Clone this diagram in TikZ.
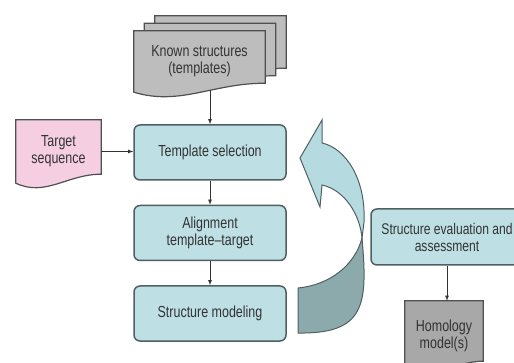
\documentclass[tikz,border=0pt]{standalone}
\usepackage{fontspec}
\setmainfont[FakeStretch=0.78]{Liberation Sans}
\usepackage{tikz}
\usetikzlibrary{calc}
\usetikzlibrary{positioning}
\usetikzlibrary{backgrounds}
\definecolor{boxteal}{RGB}{190,224,228}
\definecolor{boxedge}{RGB}{80,96,98}
\definecolor{docgray}{RGB}{189,189,189}
\definecolor{docdark}{RGB}{168,168,168}
\definecolor{docpink}{RGB}{245,206,226}
\definecolor{docedge}{RGB}{80,80,80}
\definecolor{arrlight}{RGB}{181,219,224}
\definecolor{arrdark}{RGB}{140,170,172}
\definecolor{txt}{RGB}{51,51,51}
\newcommand{\drawdoc}[3][(0pt,0pt)]{%
  \filldraw[docline,fill=#3]($(#2.south west)+#1$)--($(#2.north west)+#1$)--($(#2.north east)+#1$)--($(#2.south east)+(0,9pt)+#1$)
    .. controls ($(#2.south west)!0.6!(#2.south east)+(0,9pt)+#1$) and ($(#2.south west)!0.35!(#2.south east)-(0,14pt)+#1$) .. ($(#2.south west)+#1$)--cycle;}

\begin{document}
\begin{tikzpicture}[>=latex,x=1pt,y=-1pt,
    procbox/.style={draw=boxedge,line width=1.5pt,fill=boxteal,rounded corners=6pt,minimum width=152pt,minimum height=55pt,align=center,text=txt,font=\fontsize{16}{17}\selectfont},
    doctext/.style={inner sep=0pt,align=center,text=txt,font=\fontsize{16}{17}\selectfont},
    docline/.style={draw=docedge,line width=1.2pt},
    bendline/.style={draw=boxedge,line width=1pt},
    link/.style={->,draw=txt,line width=0.8pt}]
        \useasboundingbox(0,0)rectangle(514,363);
        \node[procbox](tsel)at(210,152.5){Template selection};
        \node[procbox,below=24pt of tsel](aln){Alignment\\template--target};
        \node[procbox,below=24pt of aln](smod){Structure modeling};
        \node[procbox,minimum width=152pt,minimum height=56pt,font=\fontsize{15.5}{17}\selectfont](eval)at(447,237){Structure evaluation and\\assessment};
        \node[doctext,minimum width=131pt,minimum height=61pt](known)at(199.5,61.5){Known structures\\(templates)};
        \node[doctext,minimum width=85pt,minimum height=63pt](target)at(58.5,151.5){Target\\sequence};
        \node[doctext,minimum width=78pt,minimum height=69pt](homol)at(444,335.5){Homology\\model(s)};
        \begin{scope}[on background layer]
            \drawdoc[(21pt,15pt)]{known}{docgray}
            \drawdoc[(10.5pt,7.5pt)]{known}{docgray}
            \drawdoc{known}{docgray}
            \drawdoc{target}{docpink}
            \drawdoc{homol}{docdark}
        \end{scope}
        \coordinate(kfoot)at($(known.south -| tsel.north)+(0,2pt)$);
        \draw[link](kfoot)--(tsel);
        \draw[link](target.east)--(target.east -| tsel.west);
        \draw[link](tsel)--(aln);
        \draw[link](aln)--(smod);
        \draw[link](eval.south)--(eval.south |- homol.north);
        \filldraw[bendline,fill=arrdark](362,238)..controls(368,305)and(365,334)..(298,333)--(298,288)..controls(330,285)and(355,265)..(362,238)--cycle;
        \filldraw[bendline,fill=arrlight](300,158)--(322,120)--(322,143)..controls(345,148)and(366,178)..(364,222)--(362,238)..controls(360,215)and(345,190)..(322,185)--(320,207)--cycle;
    \end{tikzpicture}
\end{document}
